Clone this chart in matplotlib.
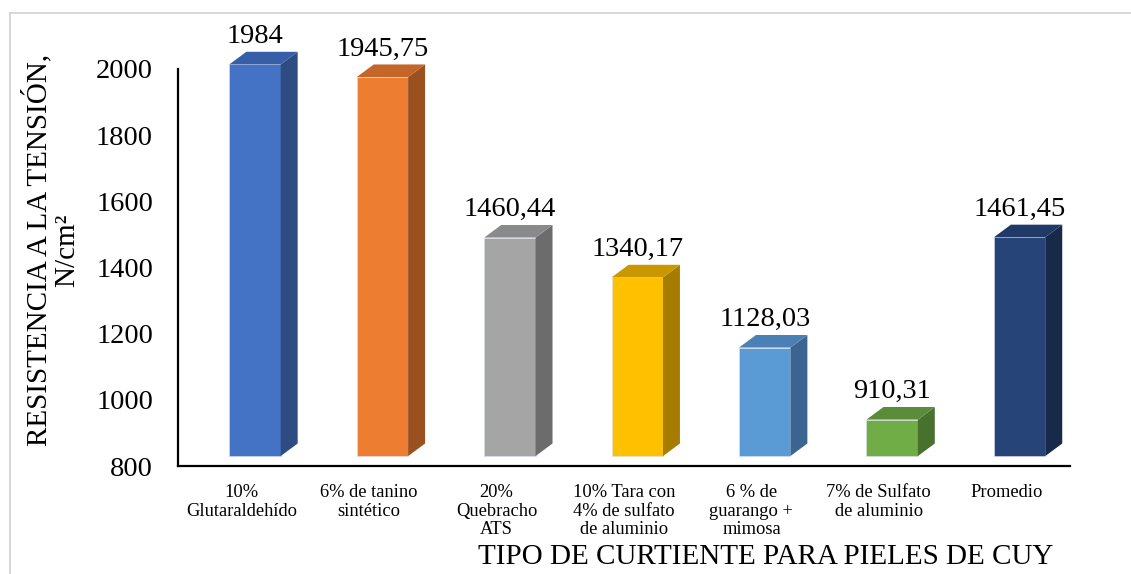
# Resistencia a la tension por tipo de curtiente (barras tipo 3D de Excel)
import matplotlib
matplotlib.use("Agg")
import matplotlib.pyplot as plt
from matplotlib.patches import Polygon
from matplotlib.lines import Line2D

# Data
categorias = [
    "10%\nGlutaraldehído",
    "6% de tanino\nsintético",
    "20%\nQuebracho\nATS",
    "10% Tara con\n4% de sulfato\nde aluminio",
    "6 % de\nguarango +\nmimosa",
    "7% de Sulfato\nde aluminio",
    "Promedio",
]
valores = [1984, 1945.75, 1460.44, 1340.17, 1128.03, 910.31, 1461.45]
etiquetas = ["1984", "1945,75", "1460,44", "1340,17", "1128,03", "910,31", "1461,45"]
y_ticks = [800, 1000, 1200, 1400, 1600, 1800, 2000]

# front / side / top colours for each bar
frente = ["#4472C4", "#ED7D31", "#A5A5A5", "#FFC000", "#5B9BD5", "#70AD47", "#264478"]
lado = ["#2E4B82", "#9B501F", "#6C6C6C", "#A67D00", "#3B6590", "#48712E", "#18294A"]
techo = ["#375FA8", "#C4652A", "#8A8A8A", "#C99800", "#4A80B3", "#5A8C3A", "#203A68"]

plt.rcParams["font.family"] = ["Liberation Serif", "DejaVu Serif"]

fig = plt.figure(figsize=(11.31, 5.74), dpi=100)
ax = fig.add_axes([178 / 1131, 1 - 466 / 574, (1070 - 178) / 1131, (466 - 69) / 574])
ax.set_xlim(-0.5, 6.5)
ax.set_ylim(800, 2000)

# 3D look: front face offset and depth
x0, x1 = -0.097, 0.306       # front face relative to category centre
lift = 30                    # front face raised above the floor
dx, dy = 0.133, 38           # depth of the block

for i, v in enumerate(valores):
    a, b = i + x0, i + x1
    lo, hi = 800 + lift, v + lift
    ax.add_patch(Polygon([(a, lo), (b, lo), (b, hi), (a, hi)], closed=True,
                         facecolor=frente[i], edgecolor="#D9E2F0", lw=0.4, clip_on=False, zorder=3))
    ax.add_patch(Polygon([(b, lo), (b + dx, lo + dy), (b + dx, hi + dy), (b, hi)], closed=True,
                         facecolor=lado[i], edgecolor="none", clip_on=False, zorder=3))
    ax.add_patch(Polygon([(a, hi), (b, hi), (b + dx, hi + dy), (a + dx, hi + dy)], closed=True,
                         facecolor=techo[i], edgecolor="none", clip_on=False, zorder=3))
    ax.text((a + b) / 2, hi + dy + 8, etiquetas[i], ha="center", va="bottom",
            fontsize=20.5, color="black", zorder=4, clip_on=False)

for s in ["top", "right"]:
    ax.spines[s].set_visible(False)
for s in ["left", "bottom"]:
    ax.spines[s].set_linewidth(1.6)
    ax.spines[s].set_color("black")

ax.set_yticks(y_ticks)
ax.set_yticklabels([str(t) for t in y_ticks], fontsize=20.5)
ax.tick_params(axis="y", length=0, pad=18)
ax.set_xticks(range(len(categorias)))
ax.set_xticklabels(categorias, fontsize=13.3, linespacing=1.12, va="top")
ax.tick_params(axis="x", length=0, pad=13)

fig.text(766 / 1131, 1 - 557 / 574, "TIPO DE CURTIENTE PARA PIELES DE CUY",
         ha="center", va="center", fontsize=21)
fig.text(51 / 1131, 1 - 250 / 574, "RESISTENCIA A LA TENSIÓN,\nN/cm²",
         ha="center", va="center", rotation=90, fontsize=21, linespacing=1.1)

# outer frame (only top and left visible)
fig.add_artist(Line2D([10 / 1131, 1], [1 - 13 / 574, 1 - 13 / 574], color="#D0D0D0", lw=1.2))
fig.add_artist(Line2D([10 / 1131, 10 / 1131], [0, 1 - 13 / 574], color="#D0D0D0", lw=1.2))

fig.savefig("out.png", dpi=100)
